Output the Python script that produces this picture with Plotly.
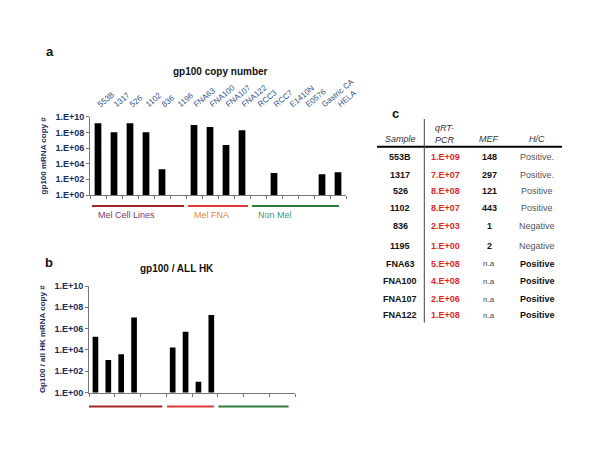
import plotly.graph_objects as go

# ---------------- data ----------------
categories = ["553B", "1317", "526", "1102", "836", "1196", "FNA63", "FNA100",
              "FNA107", "FNA122", "RCC3", "RCC7", "E1410N", "E0576", "Gastric CA", "HELA"]
copy_number = [1.5e9, 1.0e8, 1.5e9, 1.0e8, 2.0e3, None, 9.0e8, 5.0e8,
               2.5e6, 1.8e8, None, 6.5e2, None, None, 4.5e2, 8.0e2]
gp100_hk = [1.7e5, 1.1e3, 3.9e3, 1.1e7, None, None, 1.7e4, 5.0e5,
            1.0e1, 1.9e7, None, None, None, None, None, None]
y_tickvals = [1, 1e2, 1e4, 1e6, 1e8, 1e10]
y_ticktext = ["1.E+00", "1.E+02", "1.E+04", "1.E+06", "1.E+08", "1.E+10"]

groups = ["Mel Cell Lines", "Mel FNA", "Non Mel"]
group_first = [0, 6, 10]
group_last = [5, 9, 15]

table_samples = ["553B", "1317", "526", "1102", "836", "1195", "FNA63", "FNA100", "FNA107", "FNA122"]
table_qpcr = ["1.E+09", "7.E+07", "8.E+08", "8.E+07", "2.E+03", "1.E+00", "5.E+08", "4.E+08", "2.E+06", "1.E+08"]
table_mef = ["148", "297", "121", "443", "1", "2", "n.a", "n.a", "n.a", "n.a"]
table_ihc = ["Positive.", "Positive.", "Positive", "Positive", "Negative", "Negative",
             "Positive", "Positive", "Positive", "Positive"]

# ---------------- styling ----------------
FONT = "Liberation Sans, Arial, sans-serif"
NARROW = "Liberation Sans Narrow, Arial Narrow, Liberation Sans, Arial, sans-serif"
NAVY = "#1c2d5a"
W, H = 600, 450
OFF = 8  # page body margin of the html page
line_colors = ["#a3262b", "#e0393c", "#2f7a3a"]
text_colors = ["#7d3a6e", "#e08a3a", "#3a9a8a"]

def px(x):
    return (x - OFF) / W

def py(y):
    return 1 - (y - OFF) / H

fig = go.Figure()

fig.add_trace(go.Bar(x=categories, y=copy_number, xaxis="x", yaxis="y",
                     marker=dict(color="black", line=dict(width=0)), width=0.42,
                     showlegend=False))
fig.add_trace(go.Scatter(x=categories, y=[1] * len(categories), xaxis="x3", yaxis="y",
                         mode="markers", marker=dict(opacity=0), showlegend=False,
                         hoverinfo="skip"))
fig.add_trace(go.Bar(x=categories, y=gp100_hk, xaxis="x2", yaxis="y2",
                     marker=dict(color="black", line=dict(width=0)), width=0.44,
                     showlegend=False))

yax = dict(type="log", range=[0, 10], tickvals=y_tickvals, ticktext=y_ticktext,
           tickfont=dict(family=FONT, size=9, color=NAVY, weight="bold"),
           showline=True, linecolor="#777", linewidth=1, ticks="outside",
           ticklen=3, tickcolor="#777", showgrid=False, zeroline=False,
           title_font=dict(family=FONT, size=8, color=NAVY, weight="bold"),
           title_standoff=7, automargin=False)
xax = dict(type="category", range=[-0.5, 15.5], showline=True, linecolor="#777",
           linewidth=1, ticks="outside", ticklen=3, tickcolor="#777",
           tickson="boundaries", showticklabels=False, showgrid=False, zeroline=False,
           automargin=False)

fig.update_layout(
    width=W, height=H, margin=dict(l=0, r=0, t=0, b=0, autoexpand=False),
    paper_bgcolor="white", plot_bgcolor="white", bargap=0.5,
    xaxis=dict(xax, domain=[px(90), px(346)], anchor="y"),
    xaxis3=dict(type="category", range=[-0.5, 15.5], overlaying="x", side="top",
                anchor="y", showline=False, showgrid=False, zeroline=False,
                ticks="outside", ticklen=4, tickcolor="rgba(0,0,0,0)", automargin=False,
                tickangle=-40, tickfont=dict(family=FONT, size=8, color="#2f5283")),
    yaxis=dict(yax, domain=[py(195), py(116.7)], anchor="x",
               title_text="gp100 mRNA copy #"),
    xaxis2=dict(xax, domain=[px(89), px(295)], anchor="y2"),
    yaxis2=dict(yax, domain=[py(392.5), py(286)], anchor="x2",
                title_text="Gp100 / all HK mRNA copy #"),
)

ann = []
shapes = []

def note(text, x, y, font, xref="paper"):
    ann.append(dict(text=text, x=x, y=py(y), xref=xref, yref="paper",
                    xanchor="center", yanchor="middle", showarrow=False, font=font))

# titles and panel letters
note("gp100 copy number", px(220), 71, dict(family=FONT, size=10, color="#111", weight="bold"))
note("gp100 / ALL HK", px(177), 268, dict(family=FONT, size=10, color="#111", weight="bold"))
for letter, lx, ly in [("a", 50, 52), ("b", 49, 262), ("c", 395, 114)]:
    note(letter, px(lx), ly, dict(family=FONT, size=13, color="#111", weight="bold"))

# group lines and labels
for i, g in enumerate(groups):
    shapes.append(dict(type="line", xref="x", yref="paper",
                       x0=group_first[i] - 0.38, x1=group_last[i] + 0.38 if i < 2 else group_last[i] + 0.06,
                       y0=py(206), y1=py(206), line=dict(color=line_colors[i], width=2)))
    shapes.append(dict(type="line", xref="x2", yref="paper",
                       x0=group_first[i] - 0.45 if i > 0 else group_first[i] - 0.58,
                       x1=group_last[i] + 0.2 if i < 2 else group_last[i],
                       y0=py(406.5), y1=py(406.5), line=dict(color=line_colors[i], width=2)))
    ann.append(dict(text=g, x=group_first[i] - 0.1, y=py(215), xref="x", yref="paper",
                    xanchor="left", yanchor="middle", showarrow=False,
                    font=dict(family=FONT, size=9, color=text_colors[i])))

# table c
col_x = [400, 445, 489, 537]
row_y = [157.3, 175, 191, 208.3, 225.7, 245.7, 263.7, 281.3, 299, 315.3]
hdr_font = dict(family=NARROW, size=9, color="#333", style="italic")
for txt, cx, cy in [("Sample", 400, 139.5), ("qRT-<br>PCR", 445, 134), ("MEF", 489, 139.5), ("H/C", 537, 139.5)]:
    note(txt, px(cx), cy, hdr_font)
shapes.append(dict(type="line", xref="paper", yref="paper", x0=px(377), x1=px(562),
                   y0=py(146.7), y1=py(146.7), line=dict(color="black", width=2)))
shapes.append(dict(type="line", xref="paper", yref="paper", x0=px(424.3), x1=px(424.3),
                   y0=py(119), y1=py(322.7), line=dict(color="#444", width=1)))
for i in range(len(table_samples)):
    yy = row_y[i]
    note(table_samples[i], px(col_x[0]), yy, dict(family=NARROW, size=9, color="#111", weight="bold"))
    note(table_qpcr[i], px(col_x[1]), yy, dict(family=NARROW, size=9, color="#e0262b", weight="bold"))
    na = table_mef[i] == "n.a"
    note(table_mef[i], px(col_x[2]), yy,
         dict(family=NARROW, size=8 if na else 9, color="#444" if na else "#111",
              weight="normal" if na else "bold"))
    bold = i >= 6
    note(table_ihc[i], px(col_x[3]), yy,
         dict(family=NARROW, size=9, color="#111" if bold else "#555",
              weight="bold" if bold else "normal"))

fig.update_layout(annotations=ann, shapes=shapes)
fig.write_html("out.html")
